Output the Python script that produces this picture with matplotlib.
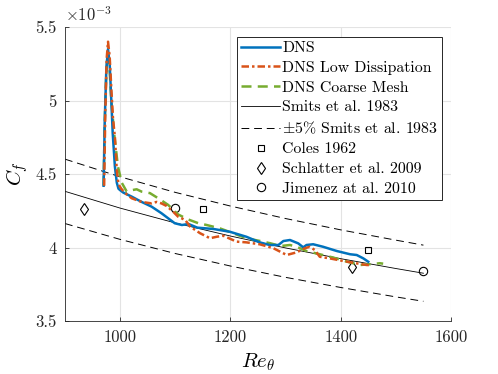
import matplotlib
matplotlib.use('Agg')
import matplotlib.pyplot as plt

plt.rcParams['font.family'] = 'serif'
plt.rcParams['font.serif'] = ['cmr10']
plt.rcParams['mathtext.fontset'] = 'cm'
plt.rcParams['axes.unicode_minus'] = False

# DNS (valori in unita' di 1e-3)
re_dns = [970, 972, 975, 978, 981, 984, 986.5, 990.5, 994, 997, 1000, 1006, 1021, 1039,
          1057, 1075, 1087, 1099, 1112, 1124, 1140, 1169, 1199, 1229, 1253, 1271, 1287,
          1296, 1308, 1323, 1332, 1338, 1350, 1368, 1393, 1417, 1429, 1441, 1450]
cf_dns = [4.42, 4.85, 5.22, 5.35, 5.25, 5.0, 4.78, 4.55, 4.44, 4.40, 4.39, 4.373, 4.346, 4.31,
          4.278, 4.233, 4.199, 4.165, 4.153, 4.16, 4.135, 4.126, 4.107, 4.073, 4.035, 4.017, 4.017,
          4.044, 4.051, 4.028, 4.001, 4.017, 4.022, 4.005, 3.976, 3.954, 3.949, 3.926, 3.903]

# DNS Low Dissipation
re_ld = [971, 973, 975.5, 978, 981, 984, 987, 990.5, 994, 997, 1002, 1009, 1021, 1039, 1057,
         1066, 1075, 1084, 1096, 1105, 1118, 1127, 1145, 1163, 1175, 1187, 1211, 1229, 1253,
         1278, 1302, 1320, 1335, 1344, 1353, 1362, 1380, 1405, 1429, 1447, 1456]
cf_ld = [4.42, 4.9, 5.28, 5.40, 5.30, 5.08, 4.88, 4.75, 4.52, 4.43, 4.40, 4.37, 4.335, 4.31, 4.30,
         4.31, 4.30, 4.283, 4.244, 4.21, 4.187, 4.142, 4.097, 4.063, 4.073, 4.08, 4.04, 4.035, 4.022,
         3.995, 3.949, 3.967, 3.995, 4.005, 3.983, 3.937, 3.926, 3.908, 3.892, 3.881, 3.88]

# DNS Coarse Mesh
re_cm = [970, 972, 975, 978, 981, 984, 989, 996, 1003, 1012, 1021, 1030, 1039, 1054, 1069, 1087,
         1105, 1124, 1142, 1157, 1181, 1205, 1229, 1254, 1272, 1284, 1296, 1308, 1320, 1338, 1362,
         1387, 1411, 1435, 1453, 1471, 1477]
cf_cm = [4.42, 4.85, 5.2, 5.31, 5.2, 5.0, 4.78, 4.55, 4.44, 4.38, 4.39, 4.396, 4.38, 4.37, 4.335, 4.29,
         4.225, 4.19, 4.165, 4.153, 4.13, 4.097, 4.063, 4.044, 4.029, 4.017, 4.012, 4.017, 4.005, 3.976,
         3.954, 3.931, 3.904, 3.881, 3.886, 3.893, 3.89]

# Smits et al. 1983 e banda +-5%
re_smits = [900, 1000, 1100, 1200, 1300, 1400, 1500, 1550]
cf_smits = [4.382, 4.268, 4.167, 4.078, 3.997, 3.924, 3.857, 3.825]
cf_smits_up = [4.601, 4.481, 4.375, 4.282, 4.197, 4.120, 4.050, 4.016]
cf_smits_lo = [4.163, 4.055, 3.959, 3.874, 3.797, 3.728, 3.664, 3.634]

# dati sperimentali
re_coles = [1150, 1450]
cf_coles = [4.26, 3.98]
re_schlatter = [935, 1420]
cf_schlatter = [4.26, 3.87]
re_jimenez = [1100, 1550]
cf_jimenez = [4.27, 3.84]

fig = plt.figure(figsize=(4.98, 3.74), dpi=100)
ax = fig.add_axes([65/498, 1-321/374, 386/498, 294/374])

ax.plot(re_dns, cf_dns, color='#0072BD', lw=1.8, label='DNS', zorder=5)
ax.plot(re_ld, cf_ld, color='#D95319', lw=1.8, ls=(0, (3, 1.2, 1, 1.2)), label='DNS Low Dissipation', zorder=6)
ax.plot(re_cm, cf_cm, color='#77AC30', lw=1.8, ls=(0, (4, 2.5)), label='DNS Coarse Mesh', zorder=4)
ax.plot(re_smits, cf_smits, color='k', lw=0.6, label='Smits et al. 1983')
ax.plot(re_smits, cf_smits_up, color='k', lw=0.7, ls=(0, (8, 5)), label=r'$\pm$5% Smits et al. 1983')
ax.plot(re_smits, cf_smits_lo, color='k', lw=0.7, ls=(0, (8, 5)))
ax.plot(re_coles, cf_coles, ls='none', marker='s', ms=5, mfc='none', mec='k', mew=0.8, label='Coles 1962')
ax.plot(re_schlatter, cf_schlatter, ls='none', marker='d', ms=6, mfc='none', mec='k', mew=0.8,
        label='Schlatter et al. 2009')
ax.plot(re_jimenez, cf_jimenez, ls='none', marker='o', ms=6, mfc='none', mec='k', mew=0.8,
        label='Jimenez at al. 2010')

ax.set_xlim(900, 1600)
ax.set_ylim(3.5, 5.5)
ax.set_xticks([1000, 1200, 1400, 1600])
ax.set_yticks([3.5, 4, 4.5, 5, 5.5])
ax.set_yticklabels(['3.5', '4', '4.5', '5', '5.5'])
ax.tick_params(direction='in', length=3, width=0.6, labelsize=12, colors='#262626', pad=6)
ax.grid(True, color='#e3e3e3', lw=0.8)
ax.set_axisbelow(True)
for s in ['top', 'right']:
    ax.spines[s].set_visible(False)
for s in ['left', 'bottom']:
    ax.spines[s].set_color('#262626')
    ax.spines[s].set_linewidth(0.6)

ax.set_xlabel(r'$Re_\theta$', fontsize=15, labelpad=5)
ax.set_ylabel(r'$C_f$', fontsize=15, labelpad=4)
ax.text(0.0, 1.01, r'$\times 10^{-3}$', transform=ax.transAxes, fontsize=12, ha='left', va='bottom',
        color='#262626')

leg = ax.legend(loc='upper right', bbox_to_anchor=((442-65)/386, (321-37)/294), borderaxespad=0,
                fontsize=11.4, fancybox=False, framealpha=1, edgecolor='#262626',
                handlelength=2.5, handletextpad=0.1, labelspacing=0.36, borderpad=0.25)
leg.get_frame().set_linewidth(0.7)

fig.savefig('out.png', dpi=100)
